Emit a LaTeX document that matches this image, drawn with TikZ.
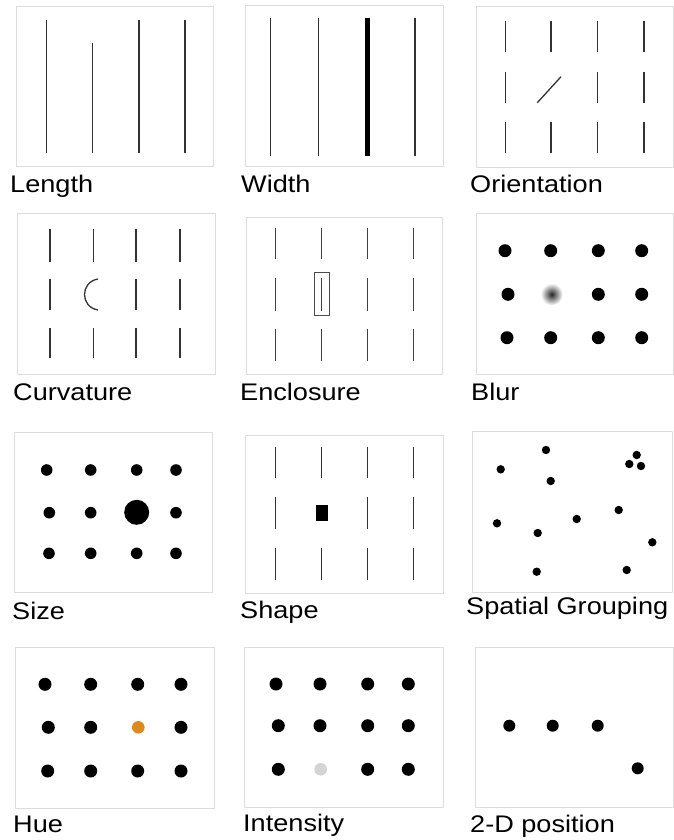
\documentclass[tikz,border=0pt]{standalone}
\usepackage{fontspec}
\newfontfamily\labelfont[FakeStretch=1.13]{Liberation Sans}
\usepackage{tikz}
\usetikzlibrary{positioning}
\definecolor{framegray}{HTML}{DDDDDD}
\definecolor{hueorange}{HTML}{DF8A1C}
\tikzstyle{panel}=[draw=framegray, line width=1pt]
\tikzstyle{tick}=[draw=black!80, line width=1.3pt]
\tikzstyle{lbl}=[anchor=base west, inner sep=0pt, font=\labelfont\fontsize{24}{28}\selectfont]

\begin{document}
\begin{tikzpicture}[x=1pt, y=-1pt,
  thintick/.style={draw=black!75, line width=1pt},
  dot/.style={fill=black}]
\useasboundingbox (0,0) rectangle (673,840);

% row 1: length, width, orientation
\draw[panel] (16.5,7) rectangle (213,166.5);
\foreach \x in {46.7,139,185} \draw[tick] (\x,20) -- (\x,153);
\draw[tick] (92.3,43) -- (92.3,153);
\node[lbl] (lenLbl) at (10,192) {Length};

\draw[panel] (245.5,5.5) rectangle (443,166);
\foreach \x in {270.7,318.3,415} \draw[tick] (\x,18) -- (\x,156);
\draw[draw=black, line width=4.5pt] (367.7,18) -- (367.7,156);
\node[lbl] (widLbl) at (241,192) {Width};

\draw[panel] (476,7) rectangle (673,167);
\foreach \x in {505.7,551,597.7,644} {
  \draw[tick] (\x,21) -- (\x,52);
  \draw[tick] (\x,122) -- (\x,153);
}
\foreach \x in {505.7,597.7,644} \draw[tick] (\x,72) -- (\x,103);
\draw[tick] (537.3,102.7) -- (561,76.7);
\node[lbl] (oriLbl) at (470,192) {Orientation};

% row 2: curvature, enclosure, blur
\draw[panel] (17,213) rectangle (215,374);
\foreach \x in {50,93.3,136,180} {
  \draw[tick] (\x,229) -- (\x,261.7);
  \draw[tick] (\x,327.7) -- (\x,358.3);
}
\foreach \x in {50,136,180} \draw[tick] (\x,279) -- (\x,310);
\draw[tick] (98,279) .. controls (80,282) and (80,307) .. (98,310);
\node[lbl] (curLbl) at (13,400) {Curvature};

\draw[panel] (246,217) rectangle (442,374);
\foreach \x in {275,321.7,367.3,413.3} {
  \draw[thintick] (\x,228.3) -- (\x,259);
  \draw[thintick] (\x,277.7) -- (\x,311);
  \draw[thintick] (\x,329) -- (\x,361);
}
\draw[draw=black!70, line width=1pt] (314.3,272.7) rectangle (329,315.7);
\node[lbl] (encLbl) at (240,400) {Enclosure};

\draw[panel] (476,213) rectangle (673,374);
\foreach \x in {505,550.7,598.3,641.7} {
  \fill[dot] (\x,250.7) circle (6.5);
}
\foreach \x in {507,550.7,598.3,641.7} {
  \fill[dot] (\x,337.7) circle (6.5);
}
\foreach \x in {508,598.3,641.7} \fill[dot] (\x,294.3) circle (6.5);
\shade[inner color=black!85, outer color=white] (551.7,294.3) circle (11);
\node[lbl] (bluLbl) at (471,400) {Blur};

% row 3: size, shape, spatial grouping
\draw[panel] (14,432) rectangle (212,592);
\foreach \x in {46.7,90.7,136.7,176} \fill[dot] (\x,470) circle (5.8);
\foreach \x in {49.3,90.7,176} \fill[dot] (\x,512.7) circle (5.8);
\foreach \x in {49,90.7,136.7,176} \fill[dot] (\x,553.3) circle (5.8);
\fill[dot] (136.7,512.3) circle (12.5);
\node[lbl] (sizLbl) at (12,619) {Size};

\draw[panel] (245,435) rectangle (443,593);
\foreach \x in {275.7,321.7,367.3,413.3} {
  \draw[tick] (\x,446.7) -- (\x,478.3);
  \draw[tick] (\x,548.3) -- (\x,580);
}
\foreach \x in {275.7,367.3,413.3} \draw[tick] (\x,496.7) -- (\x,529.3);
\fill[dot] (316,505) rectangle (328.3,521);
\node[lbl] (shaLbl) at (240,618) {Shape};

\draw[panel] (472,431) rectangle (672,592);
\foreach \p in {(546,450),(500.7,469.3),(550.7,481),(636.7,455),(629.3,464),
  (641,466),(618.7,510),(576.7,519),(497,523.3),(537.7,533),(652.3,542.3),
  (536.7,571.7),(626.7,570)}
  \fill[dot] \p circle (4.2);
\node[lbl] (spaLbl) at (466,614) {Spatial Grouping};

% row 4: hue, intensity, 2-D position
\draw[panel] (15,647) rectangle (214,808);
\foreach \x in {45,90.7,137.7,181} \fill[dot] (\x,684.3) circle (6.5);
\foreach \x in {48.3,90.7,181} \fill[dot] (\x,727.3) circle (6.5);
\foreach \x in {47.7,90.7,137.7,181} \fill[dot] (\x,771) circle (6.5);
\fill[hueorange] (138.3,727.3) circle (6.3);
\node[lbl] (hueLbl) at (13,832) {Hue};

\draw[panel] (244,647) rectangle (443,807);
\foreach \x in {276,320,367.7,408.3} \fill[dot] (\x,684) circle (6.5);
\foreach \x in {278.3,320,367.7,408.3} \fill[dot] (\x,725.7) circle (6.5);
\foreach \x in {278.3,367.7,408.3} \fill[dot] (\x,769.3) circle (6.5);
\fill[black!17] (320.7,769.3) circle (6.3);
\node[lbl] (intLbl) at (243,831) {Intensity};

\draw[panel] (475,647) rectangle (673,807);
\foreach \x in {509.3,552.7,597.7} \fill[dot] (\x,725.7) circle (6);
\fill[dot] (637.7,768.3) circle (6);
\node[lbl] (posLbl) at (470,832) {2-D position};
\end{tikzpicture}
\end{document}
